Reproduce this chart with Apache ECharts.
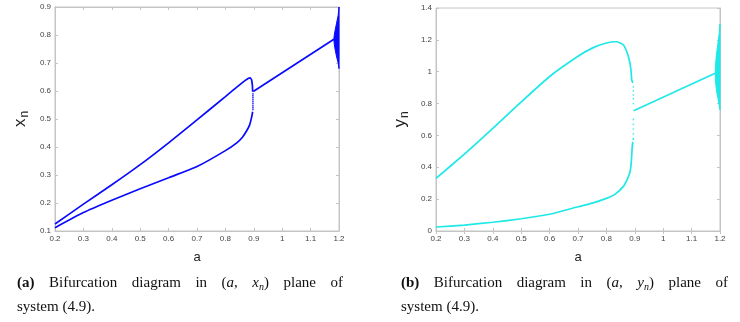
<!DOCTYPE html>
<html>
<head>
<meta charset="utf-8">
<script src="https://cdn.jsdelivr.net/npm/echarts@6/dist/echarts.min.js"></script>
<style>
  html, body { margin: 0; padding: 0; background: #fff; }
  #wrap { position: relative; width: 740px; height: 322px; overflow: hidden; }
  #chart { position: absolute; left: 0; top: 0; width: 740px; height: 322px; }
  .cap { position: absolute; font-family: "Liberation Serif", "DejaVu Serif", serif; font-size: 15px; line-height: 24px; color: #111; }
  .cap div { height: 24px; }
  .cap .l1 { text-align: justify; text-align-last: justify; white-space: nowrap; }
  .cap sub { font-size: 10px; line-height: 0; vertical-align: -3px; }
</style>
</head>
<body>
<div id="wrap">
  <div id="chart"></div>
  <div class="cap" style="left:17px;top:270px;width:326px;">
    <div class="l1"><b>(a)</b> Bifurcation diagram in (<i>a</i>, <i>x<sub>n</sub></i>) plane of</div>
    <div>system (4.9).</div>
  </div>
  <div class="cap" style="left:401px;top:270px;width:327px;">
    <div class="l1"><b>(b)</b> Bifurcation diagram in (<i>a</i>, <i>y<sub>n</sub></i>) plane of</div>
    <div>system (4.9).</div>
  </div>
</div>
<script>
// panel (a): x_n
var xUpA = [0.2, 0.3, 0.4, 0.5, 0.6, 0.7, 0.8, 0.85, 0.87, 0.88, 0.887, 0.892, 0.895, 0.896];
var xUpV = [0.125, 0.196, 0.265, 0.337, 0.415, 0.497, 0.58, 0.622, 0.638, 0.645, 0.647, 0.64, 0.62, 0.597];
var xLoA = [0.2, 0.3, 0.4, 0.5, 0.6, 0.7, 0.8, 0.84, 0.86, 0.875, 0.885, 0.892, 0.896];
var xLoV = [0.112, 0.166, 0.21, 0.251, 0.29, 0.33, 0.387, 0.415, 0.435, 0.458, 0.478, 0.505, 0.526];
var xDotA = [0.897, 0.897, 0.897, 0.897, 0.897, 0.897, 0.897, 0.897, 0.897];
var xDotV = [0.59, 0.583, 0.576, 0.569, 0.562, 0.555, 0.548, 0.541, 0.534];
var xFixA = [0.898, 1.182];
var xFixV = [0.598, 0.785];
var xBlobA = [1.2, 1.197, 1.191, 1.186, 1.183, 1.182, 1.183, 1.186, 1.191, 1.197, 1.2];
var xBlobV = [0.9, 0.87, 0.84, 0.815, 0.797, 0.785, 0.77, 0.75, 0.725, 0.7, 0.68];

// panel (b): y_n
var yUpA = [0.2, 0.3, 0.4, 0.5, 0.6, 0.7, 0.75, 0.8, 0.836, 0.86, 0.875, 0.883, 0.887, 0.889, 0.893];
var yUpV = [0.33, 0.483, 0.644, 0.81, 0.97, 1.097, 1.148, 1.18, 1.188, 1.168, 1.11, 1.053, 1.0, 0.95, 0.93];
var yLoA = [0.2, 0.3, 0.4, 0.5, 0.6, 0.7, 0.75, 0.8, 0.83, 0.86, 0.875, 0.883, 0.887, 0.889, 0.891, 0.893];
var yLoV = [0.025, 0.037, 0.055, 0.077, 0.105, 0.152, 0.175, 0.205, 0.23, 0.28, 0.33, 0.37, 0.42, 0.47, 0.53, 0.56];
var yDotA = [0.895, 0.895, 0.895, 0.895, 0.895, 0.895, 0.895, 0.895, 0.895, 0.895, 0.895];
var yDotV = [0.905, 0.88, 0.855, 0.83, 0.80, 0.70, 0.67, 0.64, 0.61, 0.58, 0.575];
var yFixA = [0.896, 1.183];
var yFixV = [0.755, 0.99];
var yBlobA = [1.2, 1.197, 1.192, 1.187, 1.184, 1.183, 1.184, 1.187, 1.192, 1.197, 1.2];
var yBlobV = [1.3, 1.24, 1.17, 1.1, 1.04, 0.99, 0.94, 0.89, 0.84, 0.79, 0.76];

var BLUE = '#0a0aff';
var CYAN = '#1fe8e8';
var AXC = '#c4c4c4';

function pairs(a, v) {
  return a.map(function (x, i) { return [x, v[i]]; });
}
function fmt(v) { return String(+(+v).toFixed(1)); }

function xAxes(gi) {
  return [{
    type: 'value', gridIndex: gi, min: 0.2, max: 1.2, interval: 0.1,
    name: 'a', nameLocation: 'middle', nameGap: 20,
    nameTextStyle: { fontFamily: 'Liberation Sans', fontSize: 13, color: '#222' },
    axisLine: { lineStyle: { color: AXC } },
    axisTick: { inside: true, length: 3, lineStyle: { color: AXC } },
    axisLabel: { fontFamily: 'Liberation Sans', fontSize: 8, color: '#444', margin: 4, formatter: fmt },
    splitLine: { show: false }
  }, {
    type: 'value', gridIndex: gi, min: 0.2, max: 1.2, interval: 0.1, position: 'top',
    axisLine: { lineStyle: { color: AXC } },
    axisTick: { inside: true, length: 3, lineStyle: { color: AXC } },
    axisLabel: { show: false }, splitLine: { show: false }
  }];
}

function yAxes(gi, min, max, step, sym, gap) {
  return [{
    type: 'value', gridIndex: gi, min: min, max: max, interval: step,
    name: '{v|' + sym + '}{s|n}', nameLocation: 'middle', nameGap: gap,
    nameTextStyle: {
      fontFamily: 'Liberation Sans', color: '#222',
      rich: {
        v: { fontFamily: 'Liberation Sans', fontSize: 17, color: '#222' },
        s: { fontFamily: 'Liberation Sans', fontSize: 12, color: '#222', padding: [9, 0, 0, 1] }
      }
    },
    axisLine: { lineStyle: { color: AXC } },
    axisTick: { inside: true, length: 3, lineStyle: { color: AXC } },
    axisLabel: { fontFamily: 'Liberation Sans', fontSize: 8, color: '#444', margin: 4, formatter: fmt },
    splitLine: { show: false }
  }, {
    type: 'value', gridIndex: gi, min: min, max: max, interval: step, position: 'right',
    axisLine: { lineStyle: { color: AXC } },
    axisTick: { inside: true, length: 3, lineStyle: { color: AXC } },
    axisLabel: { show: false }, splitLine: { show: false }
  }];
}

function line(xi, yi, a, v, color) {
  return {
    type: 'line', xAxisIndex: xi, yAxisIndex: yi, data: pairs(a, v),
    smooth: 0.15, showSymbol: false, silent: true,
    lineStyle: { color: color, width: 1.7 }
  };
}
function dots(xi, yi, a, v, color) {
  return {
    type: 'scatter', xAxisIndex: xi, yAxisIndex: yi, data: pairs(a, v),
    symbolSize: 1.8, silent: true, itemStyle: { color: color }
  };
}
function blob(xi, yi, a, v, color) {
  return {
    type: 'custom', xAxisIndex: xi, yAxisIndex: yi, data: pairs(a, v), silent: true,
    renderItem: function (params, api) {
      if (params.dataIndex !== 0) return;
      var pts = a.map(function (x, i) { return api.coord([x, v[i]]); });
      return {
        type: 'polygon', shape: { points: pts },
        style: { fill: color, stroke: color, lineWidth: 1 }
      };
    }
  };
}

var chart = echarts.init(document.getElementById('chart'), null, { renderer: 'canvas' });
chart.setOption({
  animation: false,
  grid: [
    { left: 55, top: 7, width: 284, height: 224, show: true, borderColor: AXC, borderWidth: 1 },
    { left: 436, top: 8, width: 284, height: 223, show: true, borderColor: AXC, borderWidth: 1 }
  ],
  xAxis: xAxes(0).concat(xAxes(1)),
  yAxis: yAxes(0, 0.1, 0.9, 0.1, 'x', 24).concat(yAxes(1, 0, 1.4, 0.2, 'y', 25)),
  series: [
    line(0, 0, xUpA, xUpV, BLUE),
    line(0, 0, xLoA, xLoV, BLUE),
    dots(0, 0, xDotA, xDotV, BLUE),
    line(0, 0, xFixA, xFixV, BLUE),
    blob(0, 0, xBlobA, xBlobV, BLUE),
    line(2, 2, yUpA, yUpV, CYAN),
    line(2, 2, yLoA, yLoV, CYAN),
    dots(2, 2, yDotA, yDotV, CYAN),
    line(2, 2, yFixA, yFixV, CYAN),
    blob(2, 2, yBlobA, yBlobV, CYAN)
  ]
});
</script>
</body>
</html>
